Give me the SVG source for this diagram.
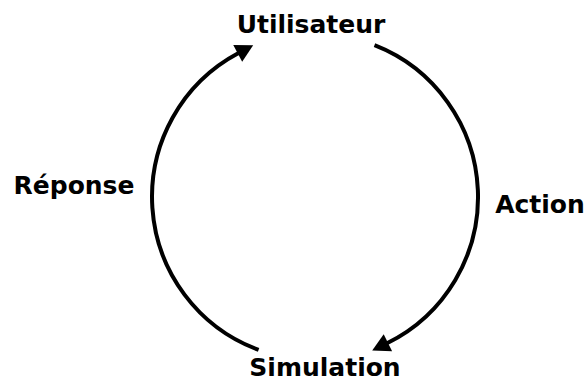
<svg xmlns="http://www.w3.org/2000/svg" width="584" height="380" viewBox="0 0 584 380">
<style>
.lbl{font-family:"DejaVu Sans",sans-serif;font-weight:bold;font-size:25px;fill:#000;text-anchor:middle}
.arc{fill:none;stroke:#000;stroke-width:4}
</style>
<defs>
<marker id="ah" markerUnits="userSpaceOnUse" markerWidth="20" markerHeight="20" viewBox="0 -10 18 20" refX="1" refY="0" orient="auto">
<path d="M0,-9.5 L17.5,0 L0,9.5 z" fill="#000"/>
</marker>
</defs>
<rect width="584" height="380" fill="#fff"/>
<g id="connectors">
<path id="action" class="arc" d="M374.5,45.2 A163,163 0 0 1 387,343.2" marker-end="url(#ah)"/>
<path id="reponse" class="arc" d="M258.6,349.9 A163,163 0 0 1 238.6,53" marker-end="url(#ah)"/>
</g>
<g id="utilisateur"><text class="lbl" x="311" y="33">Utilisateur</text></g>
<g id="simulation"><text class="lbl" x="325" y="376">Simulation</text></g>
<g id="label-reponse"><text class="lbl" x="74" y="194">Réponse</text></g>
<g id="label-action"><text class="lbl" x="540" y="213">Action</text></g>
</svg>
